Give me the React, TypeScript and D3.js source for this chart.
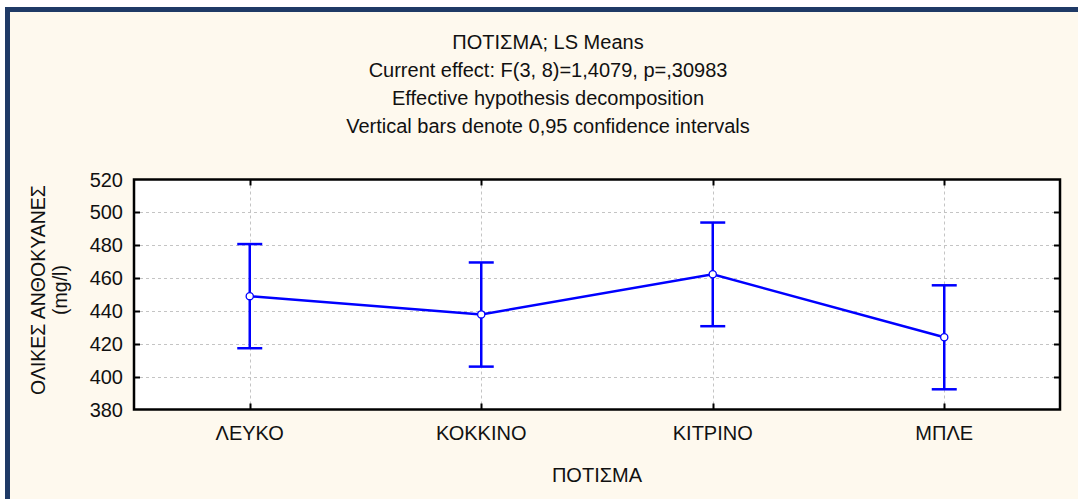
import { useEffect, useRef } from "react";
import * as d3 from "d3";

const translate = (x: number, y: number): string => `translate(${x},${y})`;

// data
const categories = ["ΛΕΥΚΟ", "ΚΟΚΚΙΝΟ", "ΚΙΤΡΙΝΟ", "ΜΠΛΕ"];
const means = [449.0, 437.9, 462.3, 424.0];
const lowerCI = [417.3, 406.1, 430.7, 392.3];
const upperCI = [480.7, 469.5, 493.8, 455.6];
const yTicks = [380, 400, 420, 440, 460, 480, 500, 520];

const titleLines = [
  "ΠΟΤΙΣΜΑ; LS Means",
  "Current effect: F(3, 8)=1,4079, p=,30983",
  "Effective hypothesis decomposition",
  "Vertical bars denote 0,95 confidence intervals",
];
const yLabelLines = ["ΟΛΙΚΕΣ ΑΝΘΟΚΥΑΝΕΣ", "(mg/l)"];
const xLabel = "ΠΟΤΙΣΜΑ";

const WIDTH = 1078;
const HEIGHT = 499;
const FONT = "'Liberation Sans', Arial, sans-serif";

const App = (): JSX.Element => {
  const svgRef = useRef<SVGSVGElement | null>(null);

  useEffect(() => {
    if (!svgRef.current) return;
    const svg = d3.select(svgRef.current);
    svg.selectAll("*").remove();

    // outer panel
    svg.append("rect").attr("width", WIDTH).attr("height", HEIGHT).attr("fill", "#ffffff");
    svg
      .append("rect")
      .attr("x", 7.5)
      .attr("y", 9.5)
      .attr("width", WIDTH + 20)
      .attr("height", HEIGHT + 20)
      .attr("fill", "#fef9ee")
      .attr("stroke", "#1f3a66")
      .attr("stroke-width", 5);

    const margin = { top: 179.5, left: 134, right: 1060, bottom: 409.5 };

    const x = d3
      .scalePoint<string>()
      .domain(categories)
      .range([margin.left, margin.right])
      .padding(0.5);

    const y = d3.scaleLinear().domain([380, 520]).range([margin.bottom, margin.top]);

    // titles
    const titleCx = 548;
    svg
      .append("g")
      .selectAll("text")
      .data(titleLines)
      .enter()
      .append("text")
      .attr("x", titleCx)
      .attr("y", (_, i) => 49 + i * 28)
      .attr("text-anchor", "middle")
      .attr("font-family", FONT)
      .attr("font-size", 20)
      .attr("fill", "#111")
      .text((d) => d);

    // plot background
    svg
      .append("rect")
      .attr("x", margin.left)
      .attr("y", margin.top)
      .attr("width", margin.right - margin.left)
      .attr("height", margin.bottom - margin.top)
      .attr("fill", "#ffffff");

    // grid
    const grid = svg.append("g").attr("stroke", "#c4c4c4").attr("stroke-dasharray", "3,3");
    grid
      .selectAll("line.h")
      .data(yTicks.slice(1, -1))
      .enter()
      .append("line")
      .attr("x1", margin.left)
      .attr("x2", margin.right)
      .attr("y1", (d) => Math.round(y(d)) + 0.5)
      .attr("y2", (d) => Math.round(y(d)) + 0.5);
    grid
      .selectAll("line.v")
      .data(categories)
      .enter()
      .append("line")
      .attr("x1", (d) => Math.round(x(d) || 0) + 0.5)
      .attr("x2", (d) => Math.round(x(d) || 0) + 0.5)
      .attr("y1", margin.top)
      .attr("y2", margin.bottom);

    // inward ticks
    const ticks = svg.append("g").attr("stroke", "#000").attr("stroke-width", 2);
    yTicks.slice(1, -1).forEach((t) => {
      const yy = Math.round(y(t)) + 0.5;
      ticks.append("line").attr("x1", margin.left).attr("x2", margin.left + 6).attr("y1", yy).attr("y2", yy);
      ticks.append("line").attr("x1", margin.right - 6).attr("x2", margin.right).attr("y1", yy).attr("y2", yy);
    });
    categories.forEach((c) => {
      const xx = Math.round(x(c) || 0) + 0.5;
      ticks.append("line").attr("x1", xx).attr("x2", xx).attr("y1", margin.top).attr("y2", margin.top + 6);
      ticks.append("line").attr("x1", xx).attr("x2", xx).attr("y1", margin.bottom - 6).attr("y2", margin.bottom);
    });

    // frame
    svg
      .append("rect")
      .attr("x", margin.left)
      .attr("y", margin.top)
      .attr("width", margin.right - margin.left)
      .attr("height", margin.bottom - margin.top)
      .attr("fill", "none")
      .attr("stroke", "#000")
      .attr("stroke-width", 2.5);

    // y tick labels
    svg
      .append("g")
      .selectAll("text")
      .data(yTicks)
      .enter()
      .append("text")
      .attr("x", 123)
      .attr("y", (d) => y(d) + 7)
      .attr("text-anchor", "end")
      .attr("font-family", FONT)
      .attr("font-size", 20)
      .attr("fill", "#111")
      .text((d) => d);

    // x tick labels
    svg
      .append("g")
      .selectAll("text")
      .data(categories)
      .enter()
      .append("text")
      .attr("x", (d) => x(d) || 0)
      .attr("y", 440)
      .attr("text-anchor", "middle")
      .attr("font-family", FONT)
      .attr("font-size", 20)
      .attr("fill", "#111")
      .text((d) => d);

    // axis titles
    svg
      .append("text")
      .attr("x", (margin.left + margin.right) / 2)
      .attr("y", 481.5)
      .attr("text-anchor", "middle")
      .attr("font-family", FONT)
      .attr("font-size", 20)
      .attr("fill", "#111")
      .text(xLabel);

    const yLab = svg
      .append("text")
      .attr("transform", `${translate(45, 290)} rotate(-90)`)
      .attr("text-anchor", "middle")
      .attr("font-family", FONT)
      .attr("font-size", 19.5)
      .attr("fill", "#111");
    yLabelLines.forEach((l, i) => {
      yLab.append("tspan").attr("x", 0).attr("y", i * 22).text(l);
    });

    // series
    const series = categories.map((c, i) => ({
      cat: c,
      mean: means[i],
      lo: lowerCI[i],
      hi: upperCI[i],
    }));
    const blue = "#0000ff";
    const g = svg.append("g");

    const line = d3
      .line<(typeof series)[number]>()
      .x((d) => x(d.cat) || 0)
      .y((d) => y(d.mean));
    g.append("path")
      .datum(series)
      .attr("d", line)
      .attr("fill", "none")
      .attr("stroke", blue)
      .attr("stroke-width", 2.5);

    const capHalf = 12.5;
    series.forEach((d) => {
      const cx = x(d.cat) || 0;
      g.append("line")
        .attr("x1", cx)
        .attr("x2", cx)
        .attr("y1", y(d.hi))
        .attr("y2", y(d.lo))
        .attr("stroke", blue)
        .attr("stroke-width", 2.5);
      [d.hi, d.lo].forEach((v) => {
        g.append("line")
          .attr("x1", cx - capHalf)
          .attr("x2", cx + capHalf)
          .attr("y1", y(v))
          .attr("y2", y(v))
          .attr("stroke", blue)
          .attr("stroke-width", 2.5);
      });
    });

    g.selectAll("circle")
      .data(series)
      .enter()
      .append("circle")
      .attr("cx", (d) => x(d.cat) || 0)
      .attr("cy", (d) => y(d.mean))
      .attr("r", 3.6)
      .attr("fill", "#ffffff")
      .attr("stroke", blue)
      .attr("stroke-width", 1.3);
  }, []);

  return (
    <div style={{ position: "absolute", left: 0, top: 0 }}>
      <svg ref={svgRef} width={WIDTH} height={HEIGHT} style={{ display: "block" }} />
    </div>
  );
};

export default App;
